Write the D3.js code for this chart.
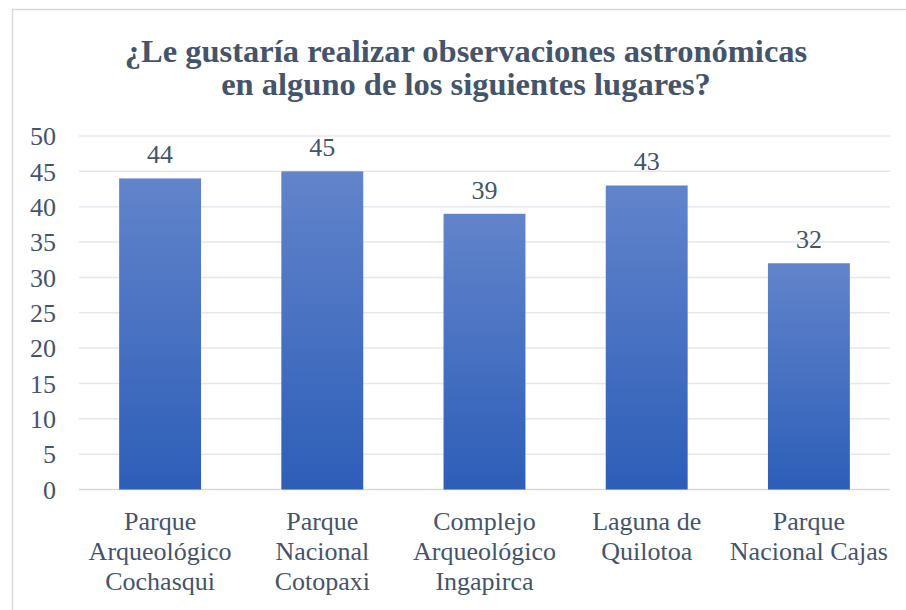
<!DOCTYPE html>
<html><head><meta charset="utf-8">
<script src="https://cdn.jsdelivr.net/npm/d3@7"></script>
<style>html,body{margin:0;padding:0;background:#fff;}svg{display:block;}</style>
</head><body>
<script>
const categories = [
  ["Parque", "Arqueológico", "Cochasqui"],
  ["Parque", "Nacional", "Cotopaxi"],
  ["Complejo", "Arqueológico", "Ingapirca"],
  ["Laguna de", "Quilotoa"],
  ["Parque", "Nacional Cajas"]
];
const values = [44, 45, 39, 43, 32];
const yTicks = [0, 5, 10, 15, 20, 25, 30, 35, 40, 45, 50];
const titleLines = ["¿Le gustaría realizar observaciones astronómicas", "en alguno de los siguientes lugares?"];

const W = 906, H = 610;
const textColor = "#44546A";
const font = "'Liberation Serif','Times New Roman',serif";
const svg = d3.select("body").append("svg").attr("width", W).attr("height", H);

const defs = svg.append("defs");
const grad = defs.append("linearGradient").attr("id", "barGrad")
  .attr("x1", 0).attr("y1", 0).attr("x2", 0).attr("y2", 1);
grad.append("stop").attr("offset", "0%").attr("stop-color", "#6284CB");
grad.append("stop").attr("offset", "100%").attr("stop-color", "#2D5EB8");

// chart border
svg.append("rect").attr("x", 12.5).attr("y", 9.5).attr("width", 1000).attr("height", 1000)
  .attr("fill", "none").attr("stroke", "#D9D9D9").attr("stroke-width", 1.5);

// title
svg.append("text").attr("x", 466).attr("y", 62).attr("text-anchor", "middle")
  .attr("font-family", font).attr("font-weight", "bold").attr("font-size", 32.5)
  .attr("fill", textColor)
  .selectAll("tspan").data(titleLines).join("tspan")
  .attr("x", 466).attr("dy", (d, i) => i === 0 ? 0 : 33).text(d => d);

const x = d3.scaleBand().domain(d3.range(values.length)).range([79, 890]).paddingInner(0.495).paddingOuter(0.2475);
const y = d3.scaleLinear().domain([0, 50]).range([489.5, 136]);

// gridlines
svg.append("g").selectAll("line").data(yTicks).join("line")
  .attr("x1", 79).attr("x2", 890)
  .attr("y1", d => y(d)).attr("y2", d => y(d))
  .attr("stroke", d => d === 0 ? "#D9D9D9" : "#E4E7EC").attr("stroke-width", 1.5);

// y axis labels
const yAxis = d3.axisLeft(y).tickValues(yTicks).tickSize(0).tickPadding(0);
const gy = svg.append("g").attr("transform", "translate(56,0)").call(yAxis);
gy.select(".domain").remove();
gy.attr("font-family", font);
gy.selectAll("text").attr("font-family", font).attr("font-size", 26).attr("fill", textColor).attr("dy", "0.34em");

// bars
svg.append("g").selectAll("rect").data(values).join("rect")
  .attr("x", (d, i) => x(i)).attr("width", x.bandwidth())
  .attr("y", d => y(d)).attr("height", d => y(0) - y(d))
  .attr("fill", "url(#barGrad)");

// data labels
svg.append("g").selectAll("text").data(values).join("text")
  .attr("x", (d, i) => x(i) + x.bandwidth() / 2).attr("y", d => y(d) - 15)
  .attr("text-anchor", "middle").attr("font-family", font).attr("font-size", 26)
  .attr("fill", textColor).text(d => d);

// category labels
const cat = svg.append("g").selectAll("text").data(categories).join("text")
  .attr("x", (d, i) => x(i) + x.bandwidth() / 2).attr("y", 530)
  .attr("text-anchor", "middle").attr("font-family", font).attr("font-size", 26)
  .attr("fill", textColor);
cat.each(function(lines, i) {
  d3.select(this).selectAll("tspan").data(lines).join("tspan")
    .attr("x", x(i) + x.bandwidth() / 2).attr("dy", (d, j) => j === 0 ? 0 : 30).text(d => d);
});
</script>
</body></html>
